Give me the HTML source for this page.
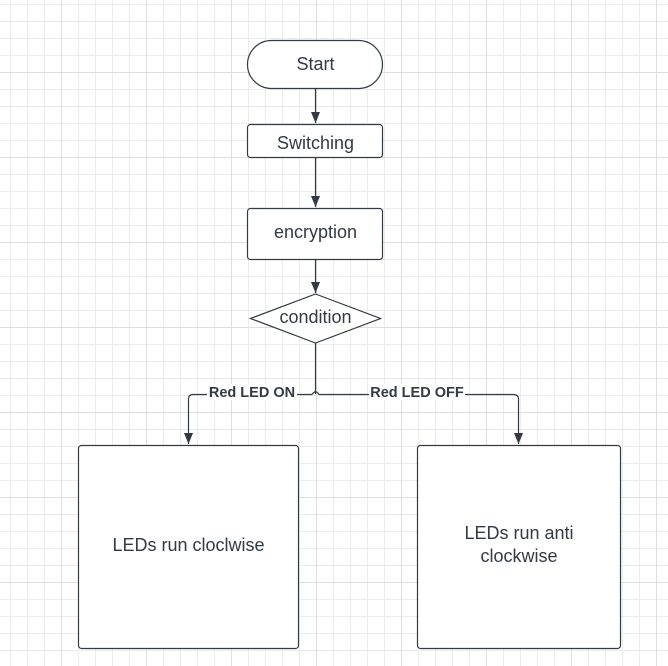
<!DOCTYPE html>
<html><head><meta charset="utf-8"><style>
html,body{margin:0;padding:0;background:#fff;}
svg{display:block;}
text{font-family:"Liberation Sans",sans-serif;fill:#333a44;}
</style></head><body>
<svg width="668" height="666" viewBox="0 0 668 666" xmlns="http://www.w3.org/2000/svg">
<defs>
<pattern id="minor" x="10" y="4" width="17" height="17" patternUnits="userSpaceOnUse">
<path d="M0.5 0V17M0 0.5H17" stroke="#ececec" stroke-width="1" fill="none"/>
</pattern>
<pattern id="major" x="61" y="72" width="85" height="85" patternUnits="userSpaceOnUse">
<path d="M0.5 0V85M0 0.5H85" stroke="#dedede" stroke-width="1" fill="none"/>
</pattern>
<marker id="ar" markerWidth="10" markerHeight="12" refX="5" refY="11" orient="0" markerUnits="userSpaceOnUse">
<path d="M0.5 0 L9.5 0 L5 11 Z" fill="#333a44"/>
</marker>
</defs>
<rect width="668" height="666" fill="#fff"/>
<rect width="668" height="666" fill="url(#minor)"/>
<rect width="668" height="666" fill="url(#major)"/>
<g stroke="#333a44" stroke-width="1.2" fill="none">
<line x1="315.5" y1="88" x2="315.5" y2="123" marker-end="url(#ar)"/>
<line x1="315.5" y1="157" x2="315.5" y2="207" marker-end="url(#ar)"/>
<line x1="315.5" y1="259" x2="315.5" y2="293" marker-end="url(#ar)"/>
<path d="M315.5 343 V394"/>
<path d="M312 394.5 H193 Q188.5 394.5 188.5 399 V444" marker-end="url(#ar)"/>
<path d="M312 394.5 Q315.5 389 319 394.5 H513 Q518.5 394.5 518.5 399 V444" marker-end="url(#ar)"/>
</g>
<g stroke="#333a44" stroke-width="1.2" fill="#fff">
<rect x="247.5" y="40.5" width="135" height="48" rx="24"/>
<rect x="247.5" y="124.5" width="135" height="33" rx="3"/>
<rect x="247.5" y="208.5" width="135" height="51" rx="3"/>
<path d="M315.5 294 L380.5 318.5 L315.5 343 L250.5 318.5 Z"/>
<rect x="78.5" y="445.5" width="220" height="203" rx="3"/>
<rect x="417.5" y="445.5" width="203" height="203" rx="3"/>
</g>
<rect x="207" y="384" width="90" height="16" fill="#fff"/>
<rect x="369" y="384" width="96" height="16" fill="#fff"/>
<g font-size="18" text-anchor="middle">
<text x="315.5" y="70">Start</text>
<text x="315.5" y="149">Switching</text>
<text x="315.5" y="238">encryption</text>
<text x="315.5" y="323">condition</text>
<text x="188.5" y="551">LEDs run cloclwise</text>
<text x="519" y="539">LEDs run anti</text>
<text x="519" y="562">clockwise</text>
</g>
<g font-size="14.5" font-weight="bold" text-anchor="middle">
<text x="252" y="397">Red LED ON</text>
<text x="417" y="397">Red LED OFF</text>
</g>
</svg>
</body></html>
